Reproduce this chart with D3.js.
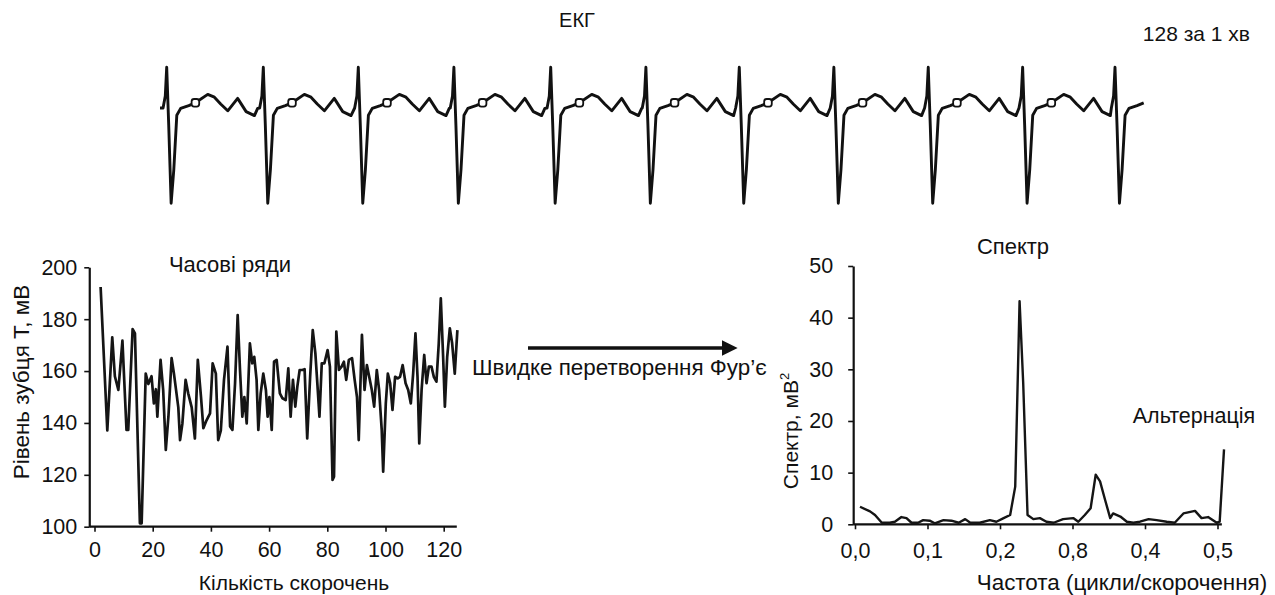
<!DOCTYPE html>
<html>
<head>
<meta charset="utf-8">
<script src="https://cdn.jsdelivr.net/npm/d3@7"></script>
<style>
    body { margin: 0; background: #fff; }
    text { font-family: "Liberation Sans", Arial, sans-serif; fill: #111; }
    .axis path, .axis line { stroke: #111; }
    .axis text { font-family: "Liberation Sans", Arial, sans-serif; font-size: 21.5px; fill: #111; }
</style>
</head>
<body>
<script>
"use strict";

// ECG strip: R-peak times (s) and one beat read from the strip (ms from R, mV)
var ecgBeats = [0, 0.478, 0.948, 1.421, 1.900, 2.371, 2.833, 3.301, 3.768, 4.235, 4.692];
var ecgStart = [-0.033, 0.10];
var ecgBeatT = [-18, -7, 0, 10, 22, 35, 50, 69, 109, 142, 203, 236, 267, 302, 351, 393, 434, 450];
var ecgBeatV = [0.10, 0.40, 1.12, -0.33, -2.28, -1.45, -0.08, 0.09, 0.16, 0.23, 0.44, 0.37, 0.20, 0.03, 0.34, 0.01, -0.09, 0.09];
var ecgMarkIdx = 9;
var ecgLastEnd = 0.17;

// T-wave level per beat (time series)
var tBeat = [2.1, 4.4, 6.1, 7, 8.2, 9.6, 11, 11.6, 13.1, 13.9, 15.6, 16.2, 17.6, 18.5, 19.6, 20.4, 21.1, 21.6, 22.7, 23.6,
    24.5, 25.4, 26.5, 27.3, 28.8, 29.4, 30.2, 31.3, 32.2, 33.4, 34.5, 35.5, 36.6, 37.4, 38.5, 39.7, 40.6, 41.7, 42.5, 43.4,
    44.5, 45.7, 46.6, 47.4, 48.3, 49.2, 50, 50.8, 51.5, 52.3, 53.4, 54.2, 54.9, 55.7, 56.3, 57.1, 58, 58.9, 59.5, 60.1,
    60.9, 61.7, 62.6, 63.7, 64.6, 65.7, 66.6, 67.4, 68.2, 69, 69.7, 70.5, 71.4, 72.2, 73.1, 74.1, 75, 75.9, 76.5, 77.3,
    78.1, 79, 80.1, 80.9, 81.8, 82.3, 83.1, 84, 84.9, 85.7, 86.5, 87.4, 88.5, 89.4, 90.2, 90.8, 91.9, 92.8, 93.6, 94.4,
    95.3, 96.1, 97, 97.8, 98.7, 99.2, 100.1, 100.8, 101.6, 102.4, 103.3, 104.2, 105, 105.9, 106.9, 107.8, 108.7, 109.5, 110.3, 111,
    111.6, 112.4, 113.3, 114.1, 114.9, 115.8, 116.6, 117.5, 118.3, 119, 119.8, 120.4, 121.2, 122.1, 122.9, 123.8, 124.7];
var tWave = [192.4, 137.1, 173, 158, 152.7, 171.7, 137.3, 137.3, 176.2, 174.5, 101.3, 101.3, 159, 155, 158, 147.5, 153, 142.4, 164.3, 152.7,
    129.6, 142.4, 165, 159, 146, 133.4, 139.8, 156.6, 151.4, 146, 134, 164.3, 150, 138, 141, 143.7, 163, 159, 133.4, 137,
    156.6, 169.4, 138.6, 137.3, 155.3, 181.6, 160.4, 142.4, 150, 139.8, 170.7, 163, 165.5, 156.6, 137.3, 151.4, 159, 152.7, 142.4, 150,
    137.3, 163.6, 164.3, 151.4, 149.5, 148.8, 161, 142.4, 156.6, 146.3, 154, 160.4, 160.4, 160.7, 134, 157.8, 175.8, 166.8, 156.6, 142.4,
    163, 163, 168.1, 161.7, 118, 119.3, 175.2, 160.4, 161.7, 163.6, 156.6, 164.3, 165, 156.6, 150, 133.4, 174, 152.7, 162.3, 157.8,
    152.7, 146.3, 160.4, 152.7, 137.3, 121.2, 147.5, 159, 155.3, 145, 157.8, 157.2, 157.8, 162.3, 155.3, 152.7, 147.5, 159, 174.5, 157.8,
    132.1, 152.7, 166.2, 155.3, 161.7, 161.7, 157.8, 155.9, 170.7, 188, 165.5, 146.3, 165.5, 176.5, 170.7, 159, 175.8];
var tTicksX = [0, 20, 40, 60, 80, 100, 120];
var tTicksY = [100, 120, 140, 160, 180, 200];

// power spectrum
var specFreq = [0.0069, 0.0207, 0.0276, 0.037, 0.048, 0.055, 0.064, 0.071, 0.078, 0.087, 0.094, 0.103, 0.11, 0.122, 0.133, 0.143,
    0.152, 0.159, 0.172, 0.186, 0.195, 0.205, 0.214, 0.221, 0.227, 0.232, 0.238, 0.246, 0.255, 0.264, 0.274, 0.287, 0.301,
    0.308, 0.317, 0.325, 0.332, 0.338, 0.345, 0.352, 0.356, 0.366, 0.375, 0.384, 0.393, 0.405, 0.416, 0.43, 0.441, 0.453,
    0.469, 0.478, 0.487, 0.499, 0.503, 0.509];
var specPower = [3.4, 2.5, 1.8, 0.3, 0.3, 0.5, 1.4, 1.2, 0.3, 0.3, 0.8, 0.7, 0.2, 0.8, 0.7, 0.3,
    1, 0.3, 0.3, 0.8, 0.5, 1.2, 1.8, 7.3, 43.2, 27.3, 1.8, 1, 1.2, 0.5, 0.3, 1, 1.2,
    0.5, 1.8, 3.1, 9.6, 8.3, 4.7, 1.2, 2.1, 1.5, 0.5, 0.3, 0.5, 1, 0.8, 0.5, 0.3, 2.1,
    2.6, 1.2, 1.4, 0.3, 0.5, 14.5];
var specTicksX = [0, 0.1, 0.2, 0.3, 0.4, 0.5];
var specTickLabels = ["0,0", "0,1", "0,2", "0,8", "0,4", "0,5"];
var specTicksY = [0, 10, 20, 30, 40, 50];

var svg = d3.select("body").append("svg")
    .attr("width", 1275)
    .attr("height", 595);

// ---- ECG ----
var xE = d3.scaleLinear().domain([0, 4.692]).range([166.7, 1115]);
var yE = d3.scaleLinear().domain([0, 1]).range([112, 72]);

var ecgPts = [ecgStart];
ecgBeats.forEach(function(r, i){
    var next = i < ecgBeats.length - 1 ? ecgBeats[i + 1] : r + ecgLastEnd;
    ecgBeatT.forEach(function(t, j){
        var s = r + t / 1000;
        if (s < next - 0.02) ecgPts.push([s, ecgBeatV[j]]);
    });
});

svg.append("path")
    .datum(ecgPts)
    .attr("d", d3.line()
        .x(function(d){ return xE(d[0]); })
        .y(function(d){ return yE(d[1]); }))
    .style("fill", "none")
    .style("stroke", "#111")
    .style("stroke-width", 2.9)
    .style("stroke-linejoin", "round");

svg.selectAll(".ecg-mark")
    .data(ecgBeats.slice(0, ecgBeats.length - 1))
    .enter()
    .append("rect")
    .attr("class", "ecg-mark")
    .attr("x", function(r){ return xE(r + ecgBeatT[ecgMarkIdx] / 1000) - 3.8; })
    .attr("y", yE(ecgBeatV[ecgMarkIdx]) - 3.8)
    .attr("width", 7.6).attr("height", 7.6)
    .attr("rx", 2.5)
    .style("fill", "#fff")
    .style("stroke", "#111")
    .style("stroke-width", 1.8);

svg.append("text")
    .attr("x", 577).attr("y", 27)
    .attr("text-anchor", "middle")
    .style("font-size", "20px")
    .text("ЕКГ");

svg.append("text")
    .attr("x", 1250).attr("y", 41)
    .attr("text-anchor", "end")
    .style("font-size", "21px")
    .text("128 за 1 хв");

// ---- time series ----
var xL = d3.scaleLinear().domain([0, 124.5]).range([94.5, 456.8]);
var yL = d3.scaleLinear().domain([100, 200]).range([526.7, 267.3]);
var leftEdge = xL(-1.8);

svg.append("g")
    .attr("class", "x axis")
    .attr("transform", "translate(0," + yL(100) + ")")
    .call(d3.axisBottom(xL).tickValues(tTicksX).tickSize(5).tickSizeOuter(0).tickPadding(10))
    .call(function(g){ g.select(".domain").remove(); })
    .call(function(g){ g.selectAll("line").style("stroke-width", 1.6); });

svg.append("line")
    .attr("x1", leftEdge).attr("x2", xL(124.5))
    .attr("y1", yL(100)).attr("y2", yL(100))
    .style("stroke", "#111").style("stroke-width", 2.2);

svg.append("g")
    .attr("class", "y axis")
    .attr("transform", "translate(" + leftEdge + ",0)")
    .call(d3.axisLeft(yL).tickValues(tTicksY).tickSize(5).tickSizeOuter(0).tickPadding(7))
    .call(function(g){ g.select(".domain").style("stroke-width", 2.2); })
    .call(function(g){ g.selectAll("line").style("stroke-width", 1.6); });

svg.append("path")
    .datum(d3.zip(tBeat, tWave))
    .attr("d", d3.line()
        .x(function(d){ return xL(d[0]); })
        .y(function(d){ return yL(d[1]); }))
    .style("fill", "none")
    .style("stroke", "#151515")
    .style("stroke-width", 2.7)
    .style("stroke-linejoin", "round");

svg.append("text")
    .attr("x", 230).attr("y", 272)
    .attr("text-anchor", "middle")
    .style("font-size", "22px")
    .text("Часові ряди");

svg.append("text")
    .attr("transform", "translate(29,382) rotate(-90)")
    .attr("text-anchor", "middle")
    .style("font-size", "22.5px")
    .text("Рівень зубця Т, мВ");

svg.append("text")
    .attr("x", 294).attr("y", 590)
    .attr("text-anchor", "middle")
    .style("font-size", "21px")
    .text("Кількість скорочень");

// ---- FFT arrow ----
svg.append("defs").append("marker")
    .attr("id", "arrow-head")
    .attr("viewBox", "0 0 10 10")
    .attr("refX", 0).attr("refY", 5)
    .attr("markerWidth", 7).attr("markerHeight", 4.6)
    .attr("markerUnits", "strokeWidth")
    .attr("orient", "auto")
    .append("path")
    .attr("d", "M0,0 L10,5 L0,10 z")
    .style("fill", "#111");

svg.append("line")
    .attr("x1", 528).attr("x2", 722)
    .attr("y1", 348).attr("y2", 348)
    .style("stroke", "#111")
    .style("stroke-width", 3.4)
    .attr("marker-end", "url(#arrow-head)");

svg.append("text")
    .attr("x", 472).attr("y", 375)
    .style("font-size", "22.4px")
    .text("Швидке перетворення Фур’є");

// ---- spectrum ----
var xR = d3.scaleLinear().domain([0, 0.51]).range([855, 1224.75]);
var yR = d3.scaleLinear().domain([0, 50]).range([524.3, 266]);
var rightEdge = xR(-0.0025);

svg.append("g")
    .attr("class", "x axis")
    .attr("transform", "translate(0," + yR(0) + ")")
    .call(d3.axisBottom(xR).tickValues(specTicksX).tickSize(5).tickSizeOuter(0).tickPadding(13)
        .tickFormat(function(d, i){ return specTickLabels[i]; }))
    .call(function(g){ g.select(".domain").remove(); })
    .call(function(g){ g.selectAll("line").style("stroke-width", 1.6); });

svg.append("line")
    .attr("x1", rightEdge).attr("x2", xR(0.506))
    .attr("y1", yR(0)).attr("y2", yR(0))
    .style("stroke", "#111").style("stroke-width", 2.2);

svg.append("g")
    .attr("class", "y axis")
    .attr("transform", "translate(" + rightEdge + ",0)")
    .call(d3.axisLeft(yR).tickValues(specTicksY).tickSize(5).tickSizeOuter(0).tickPadding(15))
    .call(function(g){ g.select(".domain").style("stroke-width", 2.2); })
    .call(function(g){ g.selectAll("line").style("stroke-width", 1.6); });

svg.append("path")
    .datum(d3.zip(specFreq, specPower))
    .attr("d", d3.line()
        .x(function(d){ return xR(d[0]); })
        .y(function(d){ return yR(d[1]); }))
    .style("fill", "none")
    .style("stroke", "#151515")
    .style("stroke-width", 2.4)
    .style("stroke-linejoin", "round");

svg.append("text")
    .attr("x", 1013).attr("y", 254)
    .attr("text-anchor", "middle")
    .style("font-size", "22px")
    .text("Спектр");

svg.append("text")
    .attr("x", 1194).attr("y", 423)
    .attr("text-anchor", "middle")
    .style("font-size", "21.5px")
    .text("Альтернація");

var specLabel = svg.append("text")
    .attr("transform", "translate(798,431) rotate(-90)")
    .attr("text-anchor", "middle")
    .style("font-size", "21px");
specLabel.append("tspan").text("Спектр, мВ");
specLabel.append("tspan")
    .attr("dy", -9)
    .style("font-size", "13px")
    .text("2");

svg.append("text")
    .attr("x", 1122).attr("y", 590)
    .attr("text-anchor", "middle")
    .style("font-size", "22.4px")
    .text("Частота (цикли/скорочення)");
</script>
</body>
</html>
